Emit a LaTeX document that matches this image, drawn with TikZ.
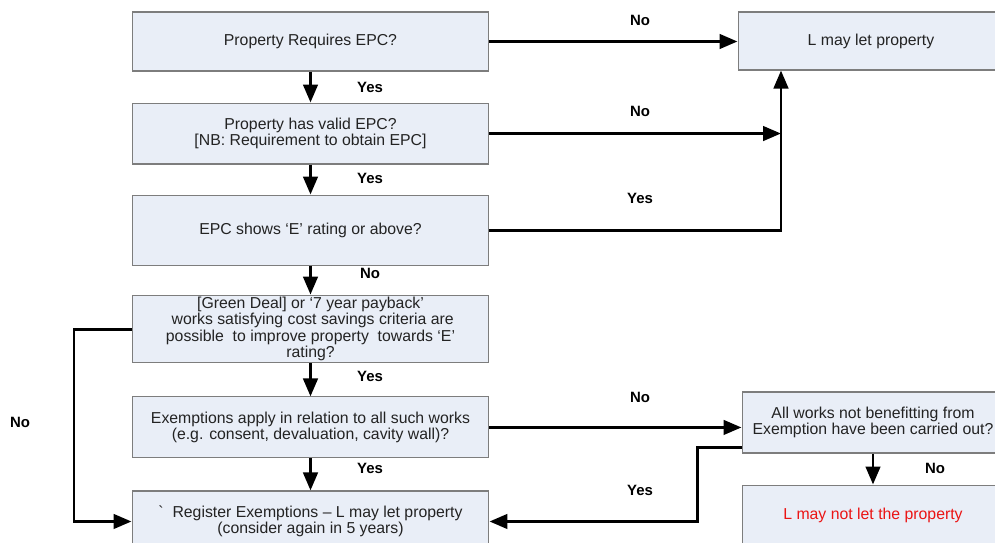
\documentclass[tikz,border=0pt]{standalone}
\usepackage{fontspec}
\setmainfont{Liberation Sans}
\usetikzlibrary{arrows.meta,
                positioning}
\definecolor{boxfill}{RGB}{233,238,247}
\definecolor{boxline}{RGB}{125,125,125}
\definecolor{txtgray}{RGB}{35,35,35}
\definecolor{warnred}{RGB}{235,20,20}
\tikzset{
  box/.style={draw=boxline, fill=boxfill, line width=0.6pt, minimum width=7.14cm,
              align=center, inner sep=1pt, text=txtgray,
              font=\fontsize{9}{9.4}\selectfont},
  sidebox/.style={box, minimum width=5.24cm},
  lbl/.style={font=\fontsize{8.5}{10}\selectfont\bfseries},
  flow/.style={line width=1.7pt, -{Triangle[length=0.36cm,width=0.29cm]}}
}

\begin{document}
\begin{tikzpicture}[x=0.02cm,y=-0.02cm]
    \useasboundingbox (0,0) rectangle (995,543);
    \clip (0,0) rectangle (995,543);

    % main column of questions
    \node[box, minimum height=1.18cm] (req) at (310.5,41.5) {Property Requires EPC?};
    \node[box, minimum height=1.22cm] (valid) [below=0.62cm of req] {Property has valid EPC?\\{}[NB: Requirement to obtain EPC]};
    \node[box, minimum height=1.4cm] (rating) [below=0.6cm of valid] {EPC shows ‘E’ rating or above?};
    \node[box, minimum height=1.34cm] (works) [below=0.58cm of rating] {[Green Deal] or ‘7 year payback’\\ \ works satisfying cost savings criteria are\\possible\ \ to improve property\ \ towards ‘E’\\rating?};
    \node[box, minimum height=1.22cm] (exempt) [below=0.66cm of works] {Exemptions apply in relation to all such works\\(e.g. consent, devaluation, cavity wall)?};
    \node[box, minimum height=1.22cm] (register) [below=0.64cm of exempt] {\textasciigrave\ \ Register Exemptions – L may let property\\(consider again in 5 years)};

    % outcomes on the right
    \node[sidebox, minimum width=5.32cm, minimum height=1.16cm] (maylet) at (871,41) {L may let property};
    \node[sidebox, minimum height=1.22cm] (carried) at (873,422.5) {All works not benefitting from\\Exemption have been carried out?};
    \node[sidebox, minimum height=1.22cm, text=warnred] (maynot) [below=0.62cm of carried] {L may not let the property};

    \coordinate (bend) at (781,0);
    \coordinate (loopx) at (74,0);

    % connectors
    \foreach \a/\b in {req/valid,valid/rating,rating/works,works/exempt,exempt/register}
      \draw[flow] (\a) -- (\b);
    \draw[flow] (req.east) -- (req.east -| maylet.west);
    \draw[flow] (valid.east) -- (valid.east -| bend);
    \draw[flow] (rating.east) -| (bend |- maylet.south);
    \draw[flow] (works.west) -- (works.west -| loopx) |- (register.west);
    \draw[flow] (exempt.east) -- (exempt.east -| carried.west);
    \draw[flow] ([yshift=0.12cm]carried.south west) -- ++(-44,0) |- (register.east);
    \draw[flow] (carried) -- (maynot);

    % labels
    \node[lbl] (noreq) at (640,20) {No};
    \node[lbl] (novalid) at (640,111) {No};
    \node[lbl] (yesrating) at (640,198) {Yes};
    \node[lbl] (yesreq) at (370,87) {Yes};
    \node[lbl] (yesvalid) at (370,178) {Yes};
    \node[lbl] (norating) at (370,273) {No};
    \node[lbl] (yesworks) at (370,376) {Yes};
    \node[lbl] (yesexempt) at (370,468) {Yes};
    \node[lbl] (noworks) at (20,422) {No};
    \node[lbl] (noexempt) at (640,397) {No};
    \node[lbl] (yescarried) at (640,490) {Yes};
    \node[lbl] (nocarried) at (935,468) {No};

\end{tikzpicture}
\end{document}
